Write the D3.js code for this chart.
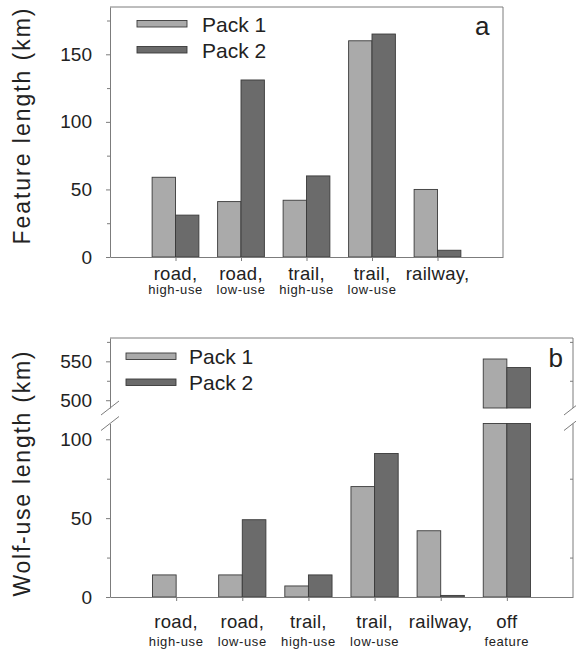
<!DOCTYPE html>
<html>
<head>
<meta charset="utf-8">
<script src="https://cdn.jsdelivr.net/npm/d3@7"></script>
<style>
  body { margin: 0; background: #fff; }
  svg text { font-family: "Liberation Sans", Arial, Helvetica, sans-serif; fill: #222; }
</style>
</head>
<body>
<svg id="chart" width="576" height="651"></svg>
<script>
// values
const mainLabels = ['road,', 'road,', 'trail,', 'trail,', 'railway,', 'off']
const subLabels = ['high-use', 'low-use', 'high-use', 'low-use', '', 'feature']
const seriesNames = ['Pack 1', 'Pack 2']

const featurePack1 = [59, 41, 42, 160, 50]
const featurePack2 = [31, 131, 60, 165, 5]

const wolfPack1 = [14, 14, 7, 70, 42, 553]
const wolfPack2 = [0, 49, 14, 91, 1, 542]

const featureTicks = [0, 50, 100, 150]
const featureMinor = [25, 75, 125, 175]
const wolfLowTicks = [0, 50, 100]
const wolfLowMinor = [25, 75]
const wolfHighTicks = [500, 550]
const wolfHighMinor = [525, 575]

const colors = ['#aaaaaa', '#6b6b6b']
const axisColor = '#7c7c7c'

const svg = d3.select('#chart')

let styleAxis = (g) => {
    g.selectAll('.domain').attr('stroke', axisColor)
    g.selectAll('.tick line').attr('stroke', axisColor)
    g.selectAll('.tick text').style('font-size', '19px').attr('fill', '#222')
}

let yAxis = (g, x, scale, major, minor) => {
    g.append('g')
        .attr('transform', `translate(${x},0)`)
        .call(d3.axisLeft(scale).tickValues(major).tickSize(4).tickPadding(14).tickSizeOuter(0))
        .call(styleAxis)
    g.append('g')
        .attr('transform', `translate(${x},0)`)
        .call(d3.axisLeft(scale).tickValues(minor).tickSize(3).tickFormat('').tickSizeOuter(0))
        .call(styleAxis)
        .select('.domain').remove()
}

let bar = (g, x, y0, y1, w, fill) => {
    if (y0 - y1 <= 0) return
    g.append('rect')
        .attr('x', x).attr('y', y1)
        .attr('width', w).attr('height', y0 - y1)
        .attr('fill', fill)
        .attr('stroke', '#3a3a3a')
        .attr('stroke-width', 0.9)
}

let legend = (g, x, y, textX) => {
    seriesNames.forEach((name, k) => {
        g.append('rect')
            .attr('x', x).attr('y', y + k * 26)
            .attr('width', 50).attr('height', 6.5)
            .attr('fill', colors[k]).attr('stroke', '#3a3a3a').attr('stroke-width', 0.9)
        g.append('text')
            .attr('x', textX).attr('y', y + k * 26 + 11)
            .style('font-size', '21px')
            .text(name)
    })
}

let xLabels = (g, x, n, yMain, ySub) => {
    for (let i = 0; i < n; i++) {
        g.append('text')
            .attr('x', x(i)).attr('y', yMain)
            .attr('text-anchor', 'middle')
            .style('font-size', '18.5px')
            .style('letter-spacing', '0.3px')
            .text(mainLabels[i])
        g.append('text')
            .attr('x', x(i)).attr('y', ySub)
            .attr('text-anchor', 'middle')
            .style('font-size', '13px')
            .style('letter-spacing', '0.6px')
            .text(subLabels[i])
    }
}

let yTitle = (g, cx, cy, len, label) => {
    g.append('text')
        .attr('transform', `translate(${cx},${cy}) rotate(-90)`)
        .attr('text-anchor', 'middle')
        .attr('textLength', len)
        .attr('lengthAdjust', 'spacing')
        .style('font-size', '23px')
        .text(label)
}

// ---------- panel a ----------
let ga = svg.append('g')
let xa = d3.scalePoint().domain(d3.range(featurePack1.length)).range([110, 503]).padding(1)
let ya = d3.scaleLinear().domain([0, 185]).range([257, 7])
let bwa = xa.step() * 0.357

ga.append('path')
    .attr('d', `M110,7H503V257`)
    .attr('fill', 'none').attr('stroke', axisColor)

featurePack1.forEach((v, i) => {
    bar(ga, xa(i) - bwa, ya(0), ya(v), bwa, colors[0])
    bar(ga, xa(i), ya(0), ya(featurePack2[i]), bwa, colors[1])
})

ga.append('g')
    .attr('transform', 'translate(0,257)')
    .call(d3.axisBottom(xa).tickSize(4).tickFormat('').tickSizeOuter(0))
    .call(styleAxis)
yAxis(ga, 110, ya, featureTicks, featureMinor)

xLabels(ga, xa, featurePack1.length, 279.5, 294)
legend(ga, 137, 20.5, 202)
ga.append('text').attr('x', 475).attr('y', 35).style('font-size', '26px').text('a')
yTitle(ga, 29.5, 126.5, 236, 'Feature length (km)')

// ---------- panel b ----------
let gb = svg.append('g')
let xb = d3.scalePoint().domain(d3.range(wolfPack1.length)).range([110, 573]).padding(1)
let yLow = d3.scaleLinear().domain([0, 110]).range([597, 423.5])
let yHigh = d3.scaleLinear().domain([490, 580]).range([408, 338])
let bwb = xb.step() * 0.357

gb.append('path')
    .attr('d', `M110,338H573V${yHigh(490)}M573,${yLow(110)}V597`)
    .attr('fill', 'none').attr('stroke', axisColor)
gb.append('g')
    .attr('transform', 'translate(573,0)')
    .call(d3.axisLeft(yLow).tickValues(wolfLowMinor).tickSize(3).tickFormat(''))
    .call(styleAxis)
    .select('.domain').remove()
gb.append('g')
    .attr('transform', 'translate(573,0)')
    .call(d3.axisLeft(yHigh).tickValues(wolfHighMinor).tickSize(3).tickFormat(''))
    .call(styleAxis)
    .select('.domain').remove()

let brokenBar = (v, x, fill) => {
    if (v <= 110) {
        bar(gb, x, yLow(0), yLow(v), bwb, fill)
    } else {
        bar(gb, x, yLow(0), yLow(110), bwb, fill)
        bar(gb, x, yHigh(490), yHigh(v), bwb, fill)
    }
}
wolfPack1.forEach((v, i) => {
    brokenBar(v, xb(i) - bwb, colors[0])
    brokenBar(wolfPack2[i], xb(i), colors[1])
})

gb.append('g')
    .attr('transform', 'translate(0,597)')
    .call(d3.axisBottom(xb).tickSize(4).tickFormat('').tickSizeOuter(0))
    .call(styleAxis)
yAxis(gb, 110, yLow, wolfLowTicks, wolfLowMinor)
yAxis(gb, 110, yHigh, wolfHighTicks, wolfHighMinor)

// axis break marks
for (let bx of [110, 573]) {
    for (let by of [yHigh(490), yLow(110)]) {
        gb.append('line')
            .attr('x1', bx - 9).attr('y1', by + 7)
            .attr('x2', bx + 9).attr('y2', by - 7)
            .attr('stroke', axisColor).attr('stroke-width', 1)
    }
}

xLabels(gb, xb, wolfPack1.length, 627.5, 645.5)
legend(gb, 126, 353, 189)
gb.append('text').attr('x', 548.5).attr('y', 366.5).style('font-size', '26px').text('b')
yTitle(gb, 29.5, 474, 245, 'Wolf-use length (km)')
</script>
</body>
</html>
